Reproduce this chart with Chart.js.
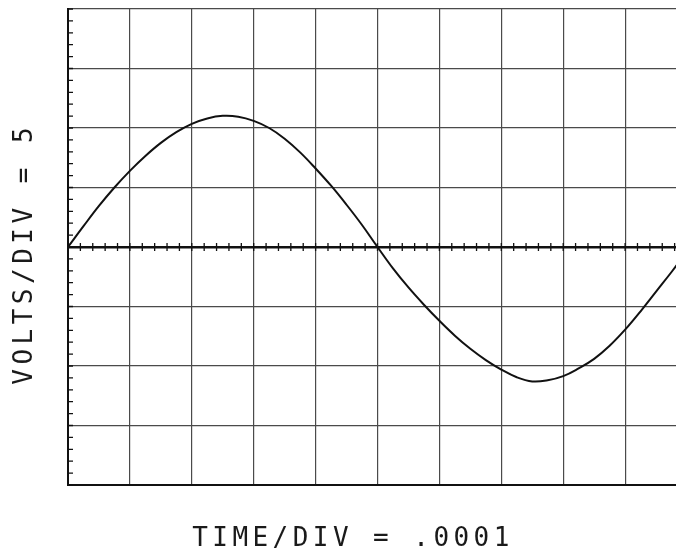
<!DOCTYPE html>
<html>
<head>
<meta charset="utf-8">
<script src="https://cdn.jsdelivr.net/npm/chart.js@4/dist/chart.umd.min.js"></script>
<style>
  html, body { margin: 0; padding: 0; background: #fff; overflow: hidden; }
  #wrap { width: 720px; height: 550px; }
</style>
</head>
<body>
<div id="wrap"><canvas id="scope" width="720" height="550"></canvas></div>
<script>
// Sweep samples: time in microseconds, amplitude in volts
const timeUs = [0, 25, 50, 75, 100, 125, 150, 175, 200, 225, 250, 275, 300, 325, 350, 375, 400, 425, 450, 475,
                500, 525, 550, 575, 600, 625, 650, 675, 700, 725, 750, 775, 800, 825, 850, 875, 900, 925, 950, 975, 1000];
const volts  = [0, 1.75, 3.45, 5.0, 6.4, 7.65, 8.75, 9.65, 10.35, 10.8, 11.02, 10.95, 10.6, 10.0, 9.1, 7.95, 6.6, 5.15, 3.55, 1.85,
                0, -1.8, -3.4, -4.85, -6.2, -7.45, -8.55, -9.5, -10.3, -10.95, -11.3, -11.2, -10.85, -10.2, -9.4, -8.3, -6.95, -5.4, -3.75, -2.1, -0.4];

// Graticule settings
const timePerDiv = 100;   // µs per horizontal division
const voltsPerDiv = 5;    // volts per vertical division
const xDivisions = 10;
const yDivisions = 8;
const minorPerDiv = 5;

const xAxisLabel = 'TIME/DIV = .0001';
const yAxisLabel = 'VOLTS/DIV = ' + voltsPerDiv;

const points = timeUs.map((t, i) => ({ x: t, y: volts[i] }));

const paper = {
  id: 'paper',
  beforeDraw(chart) {
    const c = chart.ctx;
    c.save();
    c.fillStyle = '#ffffff';
    c.fillRect(0, 0, chart.width, chart.height);
    c.restore();
  }
};

// Minor division marks along the left edge and across the centre line
const minorMarks = {
  id: 'minorMarks',
  afterDatasetsDraw(chart) {
    const c = chart.ctx;
    const xs = chart.scales.x, ys = chart.scales.y;
    const area = chart.chartArea;
    const y0 = ys.getPixelForValue(0);
    c.save();
    c.strokeStyle = '#111';
    c.lineWidth = 1.3;
    c.beginPath();
    const xStep = timePerDiv / minorPerDiv;
    for (let v = xs.min; v <= xs.max + 1e-6; v += xStep) {
      const px = xs.getPixelForValue(v);
      c.moveTo(px, y0 - 4);
      c.lineTo(px, y0 + 4);
    }
    const yStep = voltsPerDiv / minorPerDiv;
    for (let v = ys.min; v <= ys.max + 1e-6; v += yStep) {
      const py = ys.getPixelForValue(v);
      c.moveTo(area.left, py);
      c.lineTo(area.left + 5, py);
    }
    c.stroke();
    c.restore();
  }
};

// Plotter-style captions drawn one character per fixed cell
function drawSpaced(c, text, advance) {
  for (let i = 0; i < text.length; i++) {
    c.fillText(text[i], (i + 0.5) * advance, 0);
  }
}
const captions = {
  id: 'captions',
  afterDraw(chart) {
    const c = chart.ctx;
    c.save();
    c.fillStyle = '#1a1a1a';
    c.font = '26px "DejaVu Sans Mono", monospace';
    c.textAlign = 'center';
    c.textBaseline = 'alphabetic';
    c.save();
    c.translate(190, 546);
    drawSpaced(c, xAxisLabel, 20.1);
    c.restore();
    c.save();
    c.translate(31.5, 387);
    c.rotate(-Math.PI / 2);
    drawSpaced(c, yAxisLabel, 20.15);
    c.restore();
    c.restore();
  }
};

new Chart(document.getElementById('scope'), {
  type: 'line',
  data: {
    datasets: [{
      data: points,
      borderColor: '#111',
      borderWidth: 2,
      pointRadius: 0,
      fill: false,
      tension: 0.4
    }]
  },
  options: {
    responsive: false,
    devicePixelRatio: 1,
    animation: false,
    events: [],
    layout: { padding: { left: 68, top: 9, right: 33, bottom: 65 } },
    plugins: { legend: { display: false }, tooltip: { enabled: false } },
    scales: {
      x: {
        type: 'linear',
        min: 0,
        max: timePerDiv * xDivisions,
        ticks: { display: false, stepSize: timePerDiv },
        grid: { color: '#4a4a4a', lineWidth: 1.2, drawTicks: false },
        border: { display: true, color: '#111', width: 2 }
      },
      y: {
        type: 'linear',
        min: -voltsPerDiv * yDivisions / 2,
        max: voltsPerDiv * yDivisions / 2,
        ticks: { display: false, stepSize: voltsPerDiv },
        grid: {
          color: (ctx) => (ctx.tick && ctx.tick.value === 0) ? '#111' : '#4a4a4a',
          lineWidth: (ctx) => (ctx.tick && ctx.tick.value === 0) ? 2.5 : 1.2,
          drawTicks: false
        },
        border: { display: true, color: '#111', width: 2 }
      }
    }
  },
  plugins: [paper, minorMarks, captions]
});
</script>
</body>
</html>
